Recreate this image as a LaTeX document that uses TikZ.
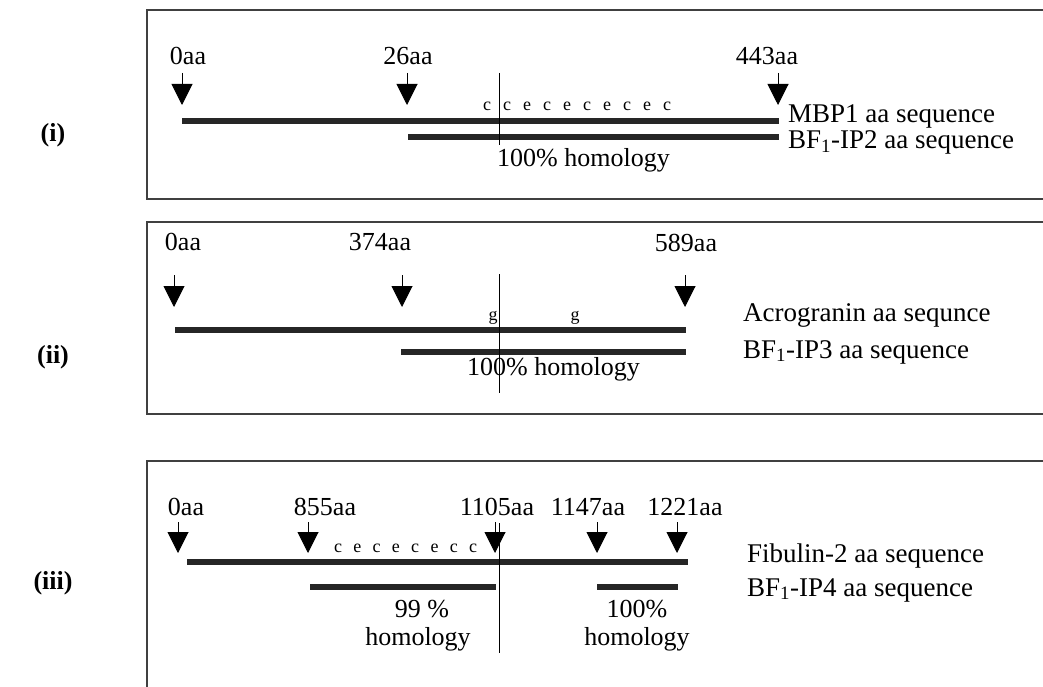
\documentclass[tikz,border=0pt]{standalone}
\usepackage{fontspec}
\setmainfont{Liberation Serif}
\usetikzlibrary{arrows.meta}
\begin{document}
\begin{tikzpicture}[x=1pt,y=-1pt,
  lbl/.style={font=\fontsize{26}{30}\selectfont, inner sep=0pt, anchor=base},
  seqlbl/.style={font=\fontsize{27}{31}\selectfont, inner sep=0pt, anchor=base west},
  homlbl/.style={lbl, anchor=base west},
  tag/.style={font=\fontsize{26}{30}\selectfont\bfseries, inner sep=0pt, anchor=base},
  res/.style={font=\fontsize{18}{21}\selectfont, inner sep=0pt, anchor=base},
  bar/.style={line width=5.5pt, draw=black!85},
  frame/.style={line width=1.3pt, draw=black!75},
  mid/.style={line width=0.8pt, draw=black},
  seqarr/.style={line width=1pt, -{Triangle[width=21pt,length=21pt]}}
]
\useasboundingbox (0,0) rectangle (1043,687);
\fill[white] (0,0) rectangle (1043,687);

% ---------- frames ----------
\draw[frame] (1043,10) -- (147,10) -- (147,199) -- (1043,199);
\draw[frame] (1043,222) -- (147,222) -- (147,414) -- (1043,414);
\draw[frame] (1043,461) -- (147,461) -- (147,687);

% ---------- panel tags ----------
\node[tag] (ti) at (53,142) {(i)};
\node[tag] (tii) at (53,363) {(ii)};
\node[tag] (tiii) at (53,589) {(iii)};

% ---------- panel (i) ----------
\node[lbl] (p1a) at (188,65) {0aa};
\node[lbl] (p1b) at (408,65) {26aa};
\node[lbl] (p1c) at (767,65) {443aa};
\foreach \x/\n in {182/a,407/b,778/c}{
  \coordinate (s1\n) at (\x,73);
  \coordinate (t1\n) at (\x,105);
  \draw[seqarr] (s1\n) -- (t1\n);
}
\coordinate (b1s) at (182,121); \coordinate (b1e) at (779,121);
\coordinate (b2s) at (408,137); \coordinate (b2e) at (779,137);
\draw[bar] (b1s) -- (b1e);
\draw[bar] (b2s) -- (b2e);
\foreach \l [count=\k from 0] in {c,c,e,c,e,c,e,c,e,c}{
  \node[res] (r1\k) at (487+20*\k,111) {\l};
}
\coordinate (v1t) at (499,73); \coordinate (v1b) at (499,145);
\draw[mid] (v1t) -- (v1b);
\node[seqlbl] (n1a) at (788,123) {MBP1 aa sequence};
\node[seqlbl] (n1b) at (788,149) {BF\textsubscript{1}-IP2 aa sequence};
\node[homlbl] (h1) at (497,167) {100\% homology};

% ---------- panel (ii) ----------
\node[lbl] (p2a) at (183,250) {0aa};
\node[lbl] (p2b) at (380,250) {374aa};
\node[lbl] (p2c) at (686,251) {589aa};
\foreach \x/\n in {174/a,402/b,685/c}{
  \coordinate (s2\n) at (\x,275);
  \coordinate (t2\n) at (\x,307);
  \draw[seqarr] (s2\n) -- (t2\n);
}
\coordinate (b3s) at (175,330); \coordinate (b3e) at (686,330);
\coordinate (b4s) at (401,352); \coordinate (b4e) at (686,352);
\draw[bar] (b3s) -- (b3e);
\draw[bar] (b4s) -- (b4e);
\node[res] (g1) at (493,320) {g};
\node[res] (g2) at (575,320) {g};
\coordinate (v2t) at (499,274); \coordinate (v2b) at (499,393);
\draw[mid] (v2t) -- (v2b);
\node[seqlbl] (n2a) at (743,321) {Acrogranin aa sequnce};
\node[seqlbl] (n2b) at (743,358) {BF\textsubscript{1}-IP3 aa sequence};
\node[homlbl] (h2) at (467,375) {100\% homology};

% ---------- panel (iii) ----------
\node[lbl] (p3a) at (186,515) {0aa};
\node[lbl] (p3b) at (325,515) {855aa};
\node[lbl] (p3c) at (497,515) {1105aa};
\node[lbl] (p3d) at (588,515) {1147aa};
\node[lbl] (p3e) at (685,515) {1221aa};
\foreach \x/\n in {178/a,308/b,495/c,597/d,677/e}{
  \coordinate (s3\n) at (\x,522);
  \coordinate (t3\n) at (\x,553);
  \draw[seqarr] (s3\n) -- (t3\n);
}
\coordinate (b5s) at (187,562); \coordinate (b5e) at (688,562);
\coordinate (b6s) at (310,587); \coordinate (b6e) at (496,587);
\coordinate (b7s) at (597,587); \coordinate (b7e) at (678,587);
\draw[bar] (b5s) -- (b5e);
\draw[bar] (b6s) -- (b6e);
\draw[bar] (b7s) -- (b7e);
\foreach \l [count=\k from 0] in {c,e,c,e,c,e,c,c}{
  \node[res] (r3\k) at (338+19.3*\k,552) {\l};
}
\coordinate (v3t) at (499,523); \coordinate (v3b) at (499,653);
\draw[mid] (v3t) -- (v3b);
\node[seqlbl] (n3a) at (747,562) {Fibulin-2 aa sequence};
\node[seqlbl] (n3b) at (747,596) {BF\textsubscript{1}-IP4 aa sequence};
\node[lbl] (h3a) at (422,617) {99 \%};
\node[lbl] (h3b) at (418,645) {homology};
\node[lbl] (h4a) at (637,617) {100\%};
\node[lbl] (h4b) at (637,645) {homology};
\end{tikzpicture}
\end{document}
